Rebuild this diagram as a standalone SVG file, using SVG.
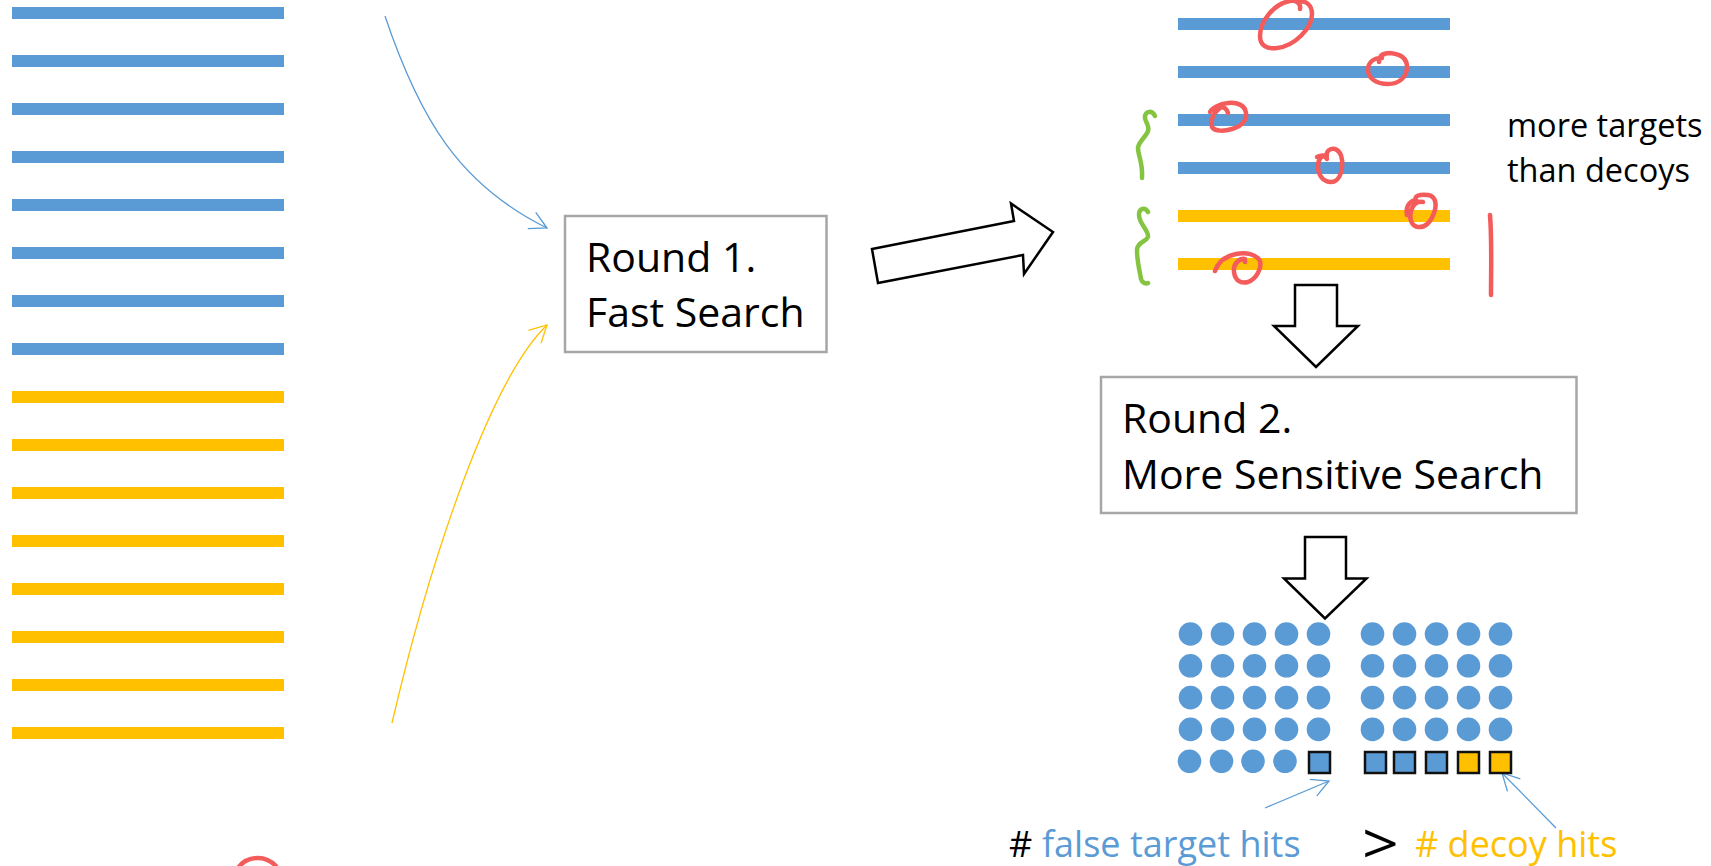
<svg xmlns="http://www.w3.org/2000/svg" width="1711" height="866" viewBox="0 0 1711 866">
<defs>
<style>
.bb{fill:#5B9BD5}
.by{fill:#FFC000}
.box{fill:#fff;stroke:#A6A6A6;stroke-width:2.5}
.blk{fill:#fff;stroke:#000;stroke-width:2.5;stroke-linejoin:miter}
.t{font-family:"Open Sans","Liberation Sans",sans-serif;fill:#000}
.red{fill:none;stroke:#F45B5B;stroke-width:4.5;stroke-linecap:round;stroke-linejoin:round}
.grn{fill:none;stroke:#84C440;stroke-width:4.5;stroke-linecap:round;stroke-linejoin:round}
.cb{fill:none;stroke:#5B9BD5;stroke-width:1.3}
.cy{fill:none;stroke:#FFC000;stroke-width:1.3}
.dot{fill:#5B9BD5}
.sq{stroke:#111;stroke-width:2.5}
</style>
<marker id="ab" markerUnits="userSpaceOnUse" markerWidth="40" markerHeight="40" viewBox="-20 -20 40 40" refX="0" refY="0" orient="auto">
<path d="M-17,-9 L0,0 L-17,9" fill="none" stroke="#5B9BD5" stroke-width="1.3"/>
</marker>
<marker id="ay" markerUnits="userSpaceOnUse" markerWidth="40" markerHeight="40" viewBox="-20 -20 40 40" refX="0" refY="0" orient="auto">
<path d="M-17,-9 L0,0 L-17,9" fill="none" stroke="#FFC000" stroke-width="1.3"/>
</marker>
</defs>
<rect width="1711" height="866" fill="#fff"/>

<g id="left-bars">
<rect class="bb" x="12" y="7" width="272" height="12"/>
<rect class="bb" x="12" y="55" width="272" height="12"/>
<rect class="bb" x="12" y="103" width="272" height="12"/>
<rect class="bb" x="12" y="151" width="272" height="12"/>
<rect class="bb" x="12" y="199" width="272" height="12"/>
<rect class="bb" x="12" y="247" width="272" height="12"/>
<rect class="bb" x="12" y="295" width="272" height="12"/>
<rect class="bb" x="12" y="343" width="272" height="12"/>
<rect class="by" x="12" y="391" width="272" height="12"/>
<rect class="by" x="12" y="439" width="272" height="12"/>
<rect class="by" x="12" y="487" width="272" height="12"/>
<rect class="by" x="12" y="535" width="272" height="12"/>
<rect class="by" x="12" y="583" width="272" height="12"/>
<rect class="by" x="12" y="631" width="272" height="12"/>
<rect class="by" x="12" y="679" width="272" height="12"/>
<rect class="by" x="12" y="727" width="272" height="12"/>
</g>

<g id="connectors">
<path class="cb" d="M385,16 C420,120 460,185 547,228" marker-end="url(#ab)"/>
<path class="cy" d="M392,723 C430,560 490,380 547,325" marker-end="url(#ay)"/>
<path class="cb" d="M1265,808 L1329,781" marker-end="url(#ab)"/>
<path class="cb" d="M1556,828 L1502,773" marker-end="url(#ab)"/>
</g>

<g id="round1">
<rect class="box" x="565" y="216" width="261.5" height="136"/>
<text class="t" x="586" y="272" font-size="41">Round 1.</text>
<text class="t" x="586" y="327" font-size="41">Fast Search</text>
</g>

<g id="arrow-right">
<polygon class="blk" points="878,283 1023,255 1024,274 1053,232 1011,203.5 1014,221 872,249"/>
</g>

<g id="result-bars">
<rect class="bb" x="1178" y="18" width="272" height="12"/>
<rect class="bb" x="1178" y="66" width="272" height="12"/>
<rect class="bb" x="1178" y="114" width="272" height="12"/>
<rect class="bb" x="1178" y="162" width="272" height="12"/>
<rect class="by" x="1178" y="210" width="272" height="12"/>
<rect class="by" x="1178" y="258" width="272" height="12"/>
</g>

<g id="annotations">
<path class="red" d="M1300,9 C1301,3 1296,0 1290,1 C1273,4 1260,22 1260,36 C1260,46 1267,49 1277,48 C1295,46 1312,28 1312,14 C1312,5 1306,1 1299,1"/>
<path class="red" d="M1379,62 C1379,56 1383,53 1390,53 C1401,54 1407,58 1407,67 C1407,78 1398,84 1388,84 C1376,84 1368,78 1368,70 C1368,62 1374,58 1382,58"/>
<path class="red" d="M1228,113 C1226,107 1222,106 1219,109 C1213,113 1210,122 1212,127 C1215,132 1225,131 1232,129 C1242,126 1247,120 1246,113 C1245,105 1237,102 1228,103 C1219,104 1212,108 1210,112"/>
<path class="red" d="M1317,157 C1321,155 1325,155 1327,159 C1325,151 1330,148 1335,149 C1341,151 1343,159 1342,167 C1341,176 1337,182 1331,182 C1323,182 1318,175 1318,166 C1318,159 1322,155 1327,155"/>
<path class="red" d="M1407,215 C1405,205 1412,199 1417,201 C1412,196 1420,194 1428,195 C1436,196 1437,205 1434,213 C1431,222 1425,228 1418,227 C1411,226 1409,218 1411,211 C1413,204 1418,201 1423,202"/>
<path class="red" d="M1215,271 C1218,262 1226,256 1236,254 C1246,252 1256,254 1260,261 C1262,269 1256,279 1248,282 C1240,284 1235,280 1234,272 C1233,264 1239,258 1245,259 L1245,262"/>
<path class="red" d="M1490,215 C1492,240 1491,270 1491,295"/>
<path class="red" d="M238,868 C243,861 250,858 258,858 C265,858 271,861 276,866"/>
<path class="grn" d="M1155,116 C1152,110 1146,111 1145,116 C1144,121 1150,125 1148,131 C1146,137 1138,142 1138,148 C1138,156 1143,162 1142,178"/>
<path class="grn" d="M1148,212 C1145,207 1139,208 1139,215 C1139,224 1149,230 1148,237 C1146,242 1137,242 1137,250 C1137,262 1140,272 1141,279 C1142,283 1146,284 1148,283"/>
</g>

<g id="note">
<text class="t" x="1507" y="137" font-size="32.5">more targets</text>
<text class="t" x="1507" y="182" font-size="32.5">than decoys</text>
</g>

<g id="arrow-down-1">
<polygon class="blk" points="1295,285 1337,285 1337,326 1358,326 1316,367 1274,326 1295,326"/>
</g>

<g id="round2">
<rect class="box" x="1101" y="377" width="475.5" height="136"/>
<text class="t" x="1122" y="433" font-size="41">Round 2.</text>
<text class="t" x="1122" y="489" font-size="41">More Sensitive Search</text>
</g>

<g id="arrow-down-2">
<polygon class="blk" points="1305,537 1346,537 1346,578.5 1366.5,578.5 1325,618.5 1284,578.5 1305,578.5"/>
</g>

<g id="hits-left">
<circle class="dot" cx="1190.5" cy="634" r="11.8"/><circle class="dot" cx="1222.5" cy="634" r="11.8"/><circle class="dot" cx="1254.5" cy="634" r="11.8"/><circle class="dot" cx="1286.5" cy="634" r="11.8"/><circle class="dot" cx="1318.5" cy="634" r="11.8"/>
<circle class="dot" cx="1190.5" cy="665.8" r="11.8"/><circle class="dot" cx="1222.5" cy="665.8" r="11.8"/><circle class="dot" cx="1254.5" cy="665.8" r="11.8"/><circle class="dot" cx="1286.5" cy="665.8" r="11.8"/><circle class="dot" cx="1318.5" cy="665.8" r="11.8"/>
<circle class="dot" cx="1190.5" cy="697.6" r="11.8"/><circle class="dot" cx="1222.5" cy="697.6" r="11.8"/><circle class="dot" cx="1254.5" cy="697.6" r="11.8"/><circle class="dot" cx="1286.5" cy="697.6" r="11.8"/><circle class="dot" cx="1318.5" cy="697.6" r="11.8"/>
<circle class="dot" cx="1190.5" cy="729.4" r="11.8"/><circle class="dot" cx="1222.5" cy="729.4" r="11.8"/><circle class="dot" cx="1254.5" cy="729.4" r="11.8"/><circle class="dot" cx="1286.5" cy="729.4" r="11.8"/><circle class="dot" cx="1318.5" cy="729.4" r="11.8"/>
<circle class="dot" cx="1189.5" cy="761.3" r="11.8"/><circle class="dot" cx="1221.5" cy="761.3" r="11.8"/><circle class="dot" cx="1253" cy="761.3" r="11.8"/><circle class="dot" cx="1285" cy="761.3" r="11.8"/>
<rect class="sq bb" x="1309" y="752" width="21" height="21"/>
</g>

<g id="hits-right">
<circle class="dot" cx="1372.5" cy="634" r="11.8"/><circle class="dot" cx="1404.5" cy="634" r="11.8"/><circle class="dot" cx="1436.5" cy="634" r="11.8"/><circle class="dot" cx="1468.5" cy="634" r="11.8"/><circle class="dot" cx="1500.5" cy="634" r="11.8"/>
<circle class="dot" cx="1372.5" cy="665.8" r="11.8"/><circle class="dot" cx="1404.5" cy="665.8" r="11.8"/><circle class="dot" cx="1436.5" cy="665.8" r="11.8"/><circle class="dot" cx="1468.5" cy="665.8" r="11.8"/><circle class="dot" cx="1500.5" cy="665.8" r="11.8"/>
<circle class="dot" cx="1372.5" cy="697.6" r="11.8"/><circle class="dot" cx="1404.5" cy="697.6" r="11.8"/><circle class="dot" cx="1436.5" cy="697.6" r="11.8"/><circle class="dot" cx="1468.5" cy="697.6" r="11.8"/><circle class="dot" cx="1500.5" cy="697.6" r="11.8"/>
<circle class="dot" cx="1372.5" cy="729.4" r="11.8"/><circle class="dot" cx="1404.5" cy="729.4" r="11.8"/><circle class="dot" cx="1436.5" cy="729.4" r="11.8"/><circle class="dot" cx="1468.5" cy="729.4" r="11.8"/><circle class="dot" cx="1500.5" cy="729.4" r="11.8"/>
<rect class="sq bb" x="1365" y="752" width="21" height="21"/>
<rect class="sq bb" x="1394" y="752" width="21" height="21"/>
<rect class="sq bb" x="1426" y="752" width="21" height="21"/>
<rect class="sq by" x="1458" y="752" width="21" height="21"/>
<rect class="sq by" x="1490" y="752" width="21" height="21"/>
</g>

<g id="formula">
<text class="t" x="1009" y="857" font-size="36">#</text>
<text class="t" x="1042" y="857" font-size="36" style="fill:#5B9BD5">false target hits</text>
<text class="t" font-size="56" transform="translate(1362,864) scale(1.15,1)">&gt;</text>
<text class="t" x="1415" y="857" font-size="36" style="fill:#FFC000"># decoy hits</text>
</g>
</svg>
